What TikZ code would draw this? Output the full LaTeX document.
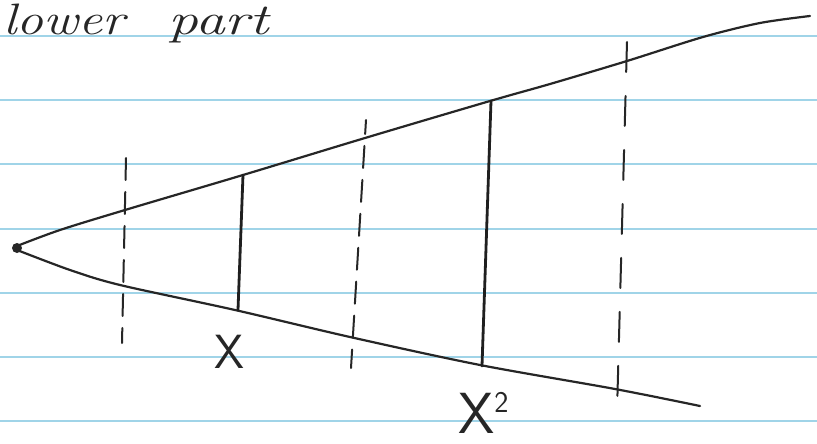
\documentclass[tikz,border=0pt]{standalone}
\begin{document}
\begin{tikzpicture}[x=1pt,y=-1pt,
  ruled/.style={draw={rgb,255:red,160;green,212;blue,232},line width=1.1pt},
  pen/.style={draw=black!85,line width=2.2pt,line cap=round,line join=round},
  thick pen/.style={draw=black!88,line width=2.8pt,line cap=round},
  dash pen/.style={draw=black!85,line width=2pt,line cap=round,dash pattern=on 22pt off 12pt},
  hand/.style={inner sep=0pt,text=black!85}]
\useasboundingbox (0,0) rectangle (817,444);
\fill[white] (0,0) rectangle (817,444);
% ruled paper lines
\foreach \yy in {36,100,164,229,293,357,421}
  \draw[ruled] (0,\yy) -- (817,\yy);
% title
\node[hand,anchor=base west,xscale=1.22,font=\fontsize{44}{44}\selectfont\itshape] (title1) at (3,35) {lower};
\node[hand,anchor=base west,xscale=1.35,font=\fontsize{44}{44}\selectfont\itshape] (title2) at (168,35) {part};
% apex
\fill[black!85] (17,248) circle (5);
\coordinate (apex) at (17,248);
% upper and lower rays
\draw[pen] plot[smooth,tension=0.5] coordinates {(17,246) (60,230) (125,210) (243,175) (365,138) (490,101) (550,84) (627,61) (703,37) (760,23) (810,16)};
\draw[pen] plot[smooth,tension=0.5] coordinates {(17,250) (70,270) (120,285) (235,310) (350,337) (480,365) (615,389) (700,406)};
% solid verticals
\draw[thick pen] (243,175) -- (238,310);
\draw[thick pen] (491,101) -- (482,366);
% dashed verticals
\draw[dash pen] (126,158) -- (122,343);
\draw[dash pen,dash phase=8pt] (366,120) -- (351,368);
\draw[dash pen,dash pattern=on 30pt off 24pt] (627,42) -- (617,412);
% labels
\node[hand,font=\fontsize{48}{48}\selectfont\sffamily] (x1) at (229,352) {X};
\node[hand,anchor=west,font=\fontsize{58}{58}\selectfont\sffamily] (x2) at (458,413) {X\raisebox{0.35em}{\fontsize{30}{30}\selectfont 2}};
\end{tikzpicture}
\end{document}
